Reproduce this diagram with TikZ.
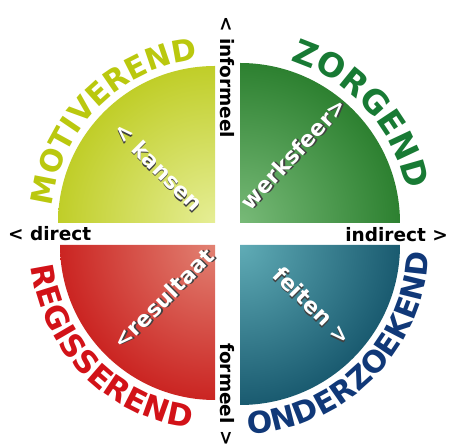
\documentclass[tikz,border=0pt]{standalone}
\usepackage{fontspec}
\setmainfont{DejaVu Sans}
\usetikzlibrary{decorations.text}

\definecolor{motdark}{RGB}{178,194,0}
\definecolor{motlight}{RGB}{230,238,150}
\definecolor{mottext}{RGB}{186,200,14}
\definecolor{zorgdark}{RGB}{26,114,30}
\definecolor{zorglight}{RGB}{120,186,120}
\definecolor{zorgtext}{RGB}{24,122,52}
\definecolor{regdark}{RGB}{198,18,18}
\definecolor{reglight}{RGB}{226,130,115}
\definecolor{regtext}{RGB}{210,18,24}
\definecolor{onddark}{RGB}{8,70,94}
\definecolor{ondlight}{RGB}{96,172,182}
\definecolor{ondtext}{RGB}{16,56,120}

\newcommand{\arcfont}[1]{\fontsize{#1}{#1}\selectfont\bfseries}
% white words with a dark copy just behind them
\newcommand{\shadowtext}[1]{%
  \makebox[0pt][l]{\hspace{1.3bp}\raisebox{-1.3bp}{\textcolor{black!75}{#1}}}#1}

\tikzset{
  axislabel/.style={
    % The font:
    font=\fontsize{18.5bp}{20bp}\selectfont\bfseries,
    % The rest
    inner sep=0pt,text=black}}
\tikzset{
  sectorlabel/.style={
    % The font:
    font=\fontsize{22bp}{24bp}\selectfont\bfseries,
    % The rest
    inner sep=0pt,text=white}}

\begin{document}
\begin{tikzpicture}[x=1bp,y=1bp]
	\useasboundingbox (0,0) rectangle (450,445);
	% Quarter discs
	\begin{scope}
		\clip (215,222) -- ++(-157,0) arc[start angle=180,end angle=90,radius=157] -- cycle;
		\shade[inner color=motlight,outer color=motdark] (215,222) circle (215);
	\end{scope}
	\begin{scope}
		\clip (240,222) -- ++(0,160) arc[start angle=90,end angle=0,radius=160] -- cycle;
		\shade[inner color=zorglight,outer color=zorgdark] (240,222) circle (200);
	\end{scope}
	\begin{scope}
		\clip (215,200) -- ++(-155,0) arc[start angle=180,end angle=270,radius=155] -- cycle;
		\shade[inner color=reglight,outer color=regdark] (215,200) circle (185);
	\end{scope}
	\begin{scope}
		\clip (240,200) -- ++(160,0) arc[start angle=0,end angle=-90,radius=160] -- cycle;
		\shade[inner color=ondlight,outer color=onddark] (240,200) circle (200);
	\end{scope}
	% Words round the discs
	\path[decorate,decoration={text along path,text align=center,text color=mottext,
		text={|\arcfont{30bp}|MOTIVEREND}}]
		(215,222) ++(185:164) arc[start angle=185,end angle=85,radius=164];
	\path[decorate,decoration={text along path,text align=center,text color=zorgtext,
		text={|\arcfont{33bp}|ZORGEND}}]
		(240,222) ++(92:170) arc[start angle=92,end angle=-8,radius=170];
	\path[decorate,decoration={text along path,text align=center,text color=regtext,
		text={|\arcfont{31bp}|REGISSEREND}}]
		(215,200) ++(174:185) arc[start angle=174,end angle=275,radius=185];
	\path[decorate,decoration={text along path,text align=center,text color=ondtext,
		text={|\arcfont{30bp}|ONDERZOEKEND}}]
		(240,200) ++(265:189) arc[start angle=265,end angle=365,radius=189];
	% Words inside the discs
	\node[sectorlabel,rotate=-45] (kansen) at (158,278) {\shadowtext{< kansen}};
	\node[sectorlabel,rotate=47] (werksfeer) at (294,291) {\shadowtext{werksfeer>}};
	\node[sectorlabel,rotate=45] (resultaat) at (164,146) {\shadowtext{<resultaat}};
	\node[sectorlabel,rotate=-45] (feiten) at (312,139) {\shadowtext{feiten >}};
	% Axis words
	\node[axislabel,anchor=base west] (direct) at (8,204) {< direct};
	\node[axislabel,anchor=base east] (indirect) at (448,203) {indirect >};
	\node[axislabel,anchor=base west,rotate=-90] (informeel) at (220,429) {< informeel};
	\node[axislabel,anchor=base west,rotate=-90] (formeel) at (220,102) {formeel >};
\end{tikzpicture}
\end{document}
